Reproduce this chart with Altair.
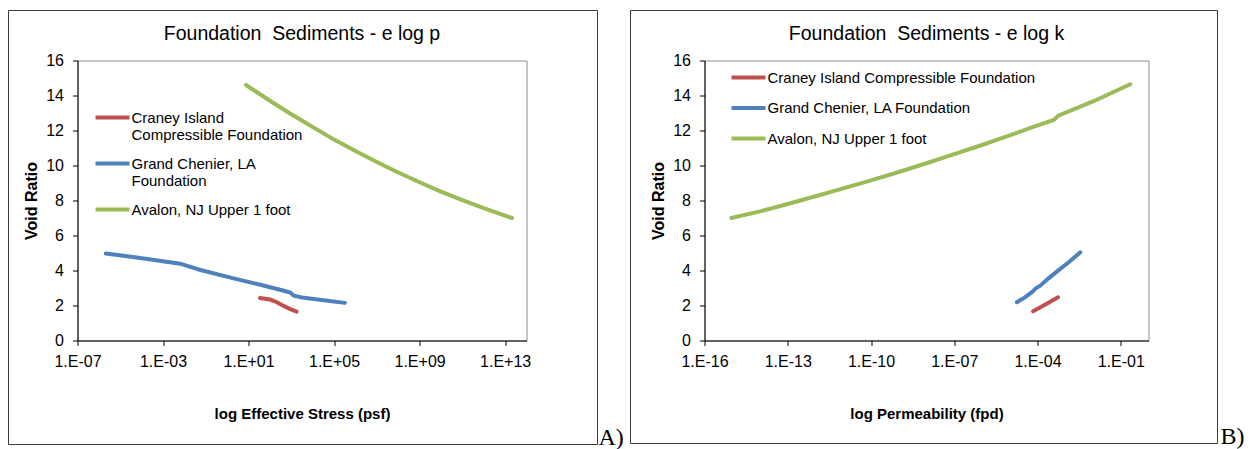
import altair as alt
import pandas as pd

SERIES = ["Craney Island Compressible Foundation", "Grand Chenier, LA Foundation", "Avalon, NJ Upper 1 foot"]
COLORS = ["#C0504D", "#4F81BD", "#9BBB59"]

# Panel A: void ratio vs effective stress (psf)
a_craney_p = [34, 100, 200, 400, 790, 1780]
a_craney_e = [2.43, 2.34, 2.20, 2.00, 1.82, 1.65]
a_chenier_p = [2.1e-6, 3.2e-5, 3.2e-4, 6.3e-3, 5.6e-2, 2.0, 32, 450, 890, 1320, 3200, 3.2e4, 3.2e5]
a_chenier_e = [4.97, 4.78, 4.61, 4.39, 4.03, 3.55, 3.20, 2.84, 2.74, 2.56, 2.46, 2.30, 2.15]
a_avalon_p = [7.6, 1e2, 1e3, 1e4, 1e5, 1e6, 1e7, 1e8, 1e9, 1e10, 1e11, 1e12, 2.1e13]
a_avalon_e = [14.6, 13.7, 12.93, 12.2, 11.48, 10.83, 10.2, 9.6, 9.04, 8.51, 8.02, 7.56, 7.0]
a_ticks = [1e-7, 1e-3, 1e1, 1e5, 1e9, 1e13]
a_domain = [1e-7, 1e14]

# Panel B: void ratio vs permeability (fpd)
b_craney_k = [6.9e-5, 2.0e-4, 5.5e-4]
b_craney_e = [1.67, 2.07, 2.47]
b_chenier_k = [1.8e-5, 3.2e-5, 6.3e-5, 8.9e-5, 1.26e-4, 2.5e-4, 5.5e-4, 1.4e-3, 3.5e-3]
b_chenier_e = [2.19, 2.42, 2.76, 3.00, 3.13, 3.55, 3.99, 4.50, 5.04]
b_avalon_k = [9.3e-16, 1e-14, 1e-13, 1e-12, 1e-11, 1e-10, 1e-9, 1e-8, 1e-7, 1e-6, 1e-5,
              6.3e-5, 2.0e-4, 4.0e-4, 5.6e-4, 1e-2, 2.2e-1]
b_avalon_e = [7.0, 7.38, 7.8, 8.24, 8.69, 9.15, 9.63, 10.13, 10.65, 11.17, 11.72,
              12.18, 12.45, 12.62, 12.85, 13.66, 14.64]
b_ticks = [1e-16, 1e-13, 1e-10, 1e-7, 1e-4, 1e-1]
b_domain = [1e-16, 1]

y_ticks = [0, 2, 4, 6, 8, 10, 12, 14, 16]

TITLE_A = "Foundation \u00a0Sediments - e log p"
TITLE_B = "Foundation \u00a0Sediments - e log k"

FONT = "Liberation Sans"


def frame(xs_list, es_list):
    parts = []
    for name, xs, es in zip(SERIES, xs_list, es_list):
        parts.append(pd.DataFrame({"series": name, "x": xs, "e": es}))
    return pd.concat(parts, ignore_index=True)


df_a = frame([a_craney_p, a_chenier_p, a_avalon_p], [a_craney_e, a_chenier_e, a_avalon_e])
df_b = frame([b_craney_k, b_chenier_k, b_avalon_k], [b_craney_e, b_chenier_e, b_avalon_e])

SCI = ("'1.E' + (round(log(datum.value)/LN10) < 0 ? '-' : '+') + "
       "(abs(round(log(datum.value)/LN10)) < 10 ? '0' : '') + abs(round(log(datum.value)/LN10))")


def panel(df, domain, ticks, width, xtitle, title, legend, box, tag, tagpos, ytitle_x):
    x_axis = alt.Axis(values=ticks, labelExpr=SCI, title=xtitle, grid=False,
                      labelFont=FONT, labelFontSize=16, labelColor="black", labelPadding=8,
                      labelFlush=False, labelOverlap=False, labelBound=False,
                      tickColor="black", tickSize=5, domainColor="black",
                      titleFont=FONT, titleFontSize=15, titleFontWeight="bold", titleColor="black",
                      titleY=73, titleBaseline="middle")
    y_axis = alt.Axis(values=y_ticks, title="Void Ratio", grid=False,
                      labelFont=FONT, labelFontSize=16, labelColor="black", labelPadding=9,
                      tickColor="black", tickSize=5, domainColor="black",
                      titleFont=FONT, titleFontSize=16, titleFontWeight="bold", titleColor="black",
                      titleX=ytitle_x, titleY=140, titleBaseline="middle", titleAlign="center")
    lines = alt.Chart(df).mark_line(strokeWidth=4, strokeCap="round").encode(
        x=alt.X("x:Q", scale=alt.Scale(type="log", domain=domain, nice=False), axis=x_axis),
        y=alt.Y("e:Q", scale=alt.Scale(domain=[0, 16], nice=False), axis=y_axis),
        color=alt.Color("series:N", scale=alt.Scale(domain=SERIES, range=COLORS),
                        sort=SERIES, legend=legend),
    )
    deco = pd.DataFrame({"k": [0]})
    border = alt.Chart(deco).mark_rect(fill="white", fillOpacity=0, stroke="#3c3c3c",
                                       strokeWidth=1).encode(
        x=alt.value(box[0]), x2=alt.value(box[1]), y=alt.value(box[2]), y2=alt.value(box[3]))
    label = alt.Chart(deco).mark_text(text=tag, font="Liberation Serif", fontSize=24,
                                      align="left", baseline="alphabetic", color="black").encode(
        x=alt.value(tagpos[0]), y=alt.value(tagpos[1]))
    return alt.layer(border, lines, label).properties(
        width=width, height=280,
        title=alt.TitleParams(title, font=FONT, fontSize=19.5, fontWeight="normal", color="black",
                              anchor="middle", baseline="alphabetic", offset=-49.5),
    )


legend_a = alt.Legend(
    title=None, orient="none", legendX=16, legendY=38, padding=0,
    symbolType="stroke", symbolSize=1156, symbolStrokeWidth=4,
    labelFont=FONT, labelFontSize=15, labelColor="black", labelOffset=0, labelLimit=400,
    rowPadding=2,
    labelExpr=("datum.label == 'Craney Island Compressible Foundation' ? "
               "['Craney Island', 'Compressible Foundation'] : "
               "datum.label == 'Grand Chenier, LA Foundation' ? "
               "['Grand Chenier, LA', 'Foundation'] : [datum.label, '']"),
)
legend_b = alt.Legend(
    title=None, orient="none", legendX=25, legendY=-2, padding=0,
    symbolType="stroke", symbolSize=1156, symbolStrokeWidth=4,
    labelFont=FONT, labelFontSize=15, labelColor="black", labelOffset=0, labelLimit=400,
    rowPadding=3.5,
)

chart_a = panel(df_a, a_domain, a_ticks, 449, "log Effective Stress (psf)",
                TITLE_A, legend_a, (-69, 520, -50, 384), "A)", (521, 384), -46)
chart_b = panel(df_b, b_domain, b_ticks, 444, "log Permeability (fpd)",
                TITLE_B, legend_b, (-74, 513, -50, 383), "B)", (516, 383), -46)

chart = alt.hconcat(chart_a, chart_b, spacing=5).resolve_legend(color="independent").properties(
    padding={"left": 7.5, "top": 9.5, "right": 5, "bottom": 0},
    background="white",
).configure_view(stroke="#8c8c8c", strokeWidth=1)

chart.save("out.html", embed_options={"renderer": "svg", "actions": False})
